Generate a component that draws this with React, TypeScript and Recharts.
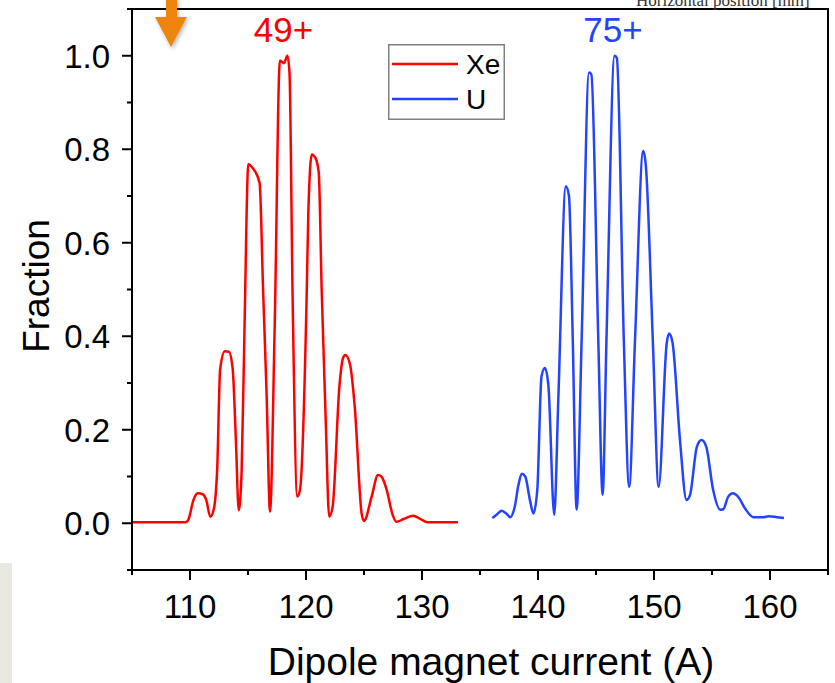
import React from 'react';
import { LineChart, Line, XAxis, YAxis, ReferenceArea, ReferenceDot, Legend } from 'recharts';

// Xe 49+ scan
const xeCurrent = [105, 109.6, 109.85, 110.3, 110.66, 111.1, 111.4, 111.75, 112.05, 112.35, 112.6, 113.0, 113.35, 113.68, 113.96, 114.2, 114.45, 114.7, 115.03, 115.4, 116.0, 116.3, 116.6, 116.9, 117.3, 117.75, 118.1, 118.4, 118.58, 118.85, 119.25, 119.48, 120.05, 120.2, 120.5, 120.8, 121.1, 121.35, 121.7, 122.0, 122.3, 122.88, 123.2, 123.4, 123.8, 124.2, 124.8, 125.0, 125.66, 126.2, 126.5, 126.96, 127.47, 127.8, 128.4, 129.25, 129.8, 130.5, 133.1];
const xeFraction = [0.002, 0.002, 0.007, 0.05, 0.064, 0.062, 0.05, 0.014, 0.03, 0.12, 0.33, 0.368, 0.367, 0.33, 0.175, 0.028, 0.11, 0.42, 0.768, 0.76, 0.728, 0.5, 0.28, 0.025, 0.42, 0.99, 0.984, 1.0, 0.962, 0.478, 0.057, 0.071, 0.478, 0.664, 0.789, 0.782, 0.75, 0.5, 0.22, 0.014, 0.036, 0.293, 0.354, 0.36, 0.339, 0.25, 0.02, 0.005, 0.057, 0.103, 0.1, 0.071, 0.018, 0.003, 0.009, 0.016, 0.01, 0.002, 0.002];

// U 75+ scan
const uCurrent = [136.06, 136.5, 136.87, 137.3, 137.6, 138.0, 138.3, 138.6, 138.9, 139.3, 139.6, 139.94, 140.3, 140.6, 140.9, 141.4, 141.75, 142.4, 142.67, 143.0, 143.33, 143.76, 144.4, 144.6, 145.2, 145.57, 145.9, 146.6, 146.8, 147.4, 147.86, 148.36, 149.07, 149.3, 149.9, 150.4, 151.1, 151.3, 151.6, 152.24, 152.8, 153.1, 153.7, 154.1, 154.5, 155.1, 155.7, 155.97, 156.4, 156.8, 157.3, 157.84, 158.56, 159.4, 159.9, 160.6, 161.2];
const uFraction = [0.011, 0.02, 0.027, 0.02, 0.013, 0.036, 0.08, 0.106, 0.1, 0.05, 0.021, 0.072, 0.314, 0.332, 0.293, 0.018, 0.264, 0.721, 0.7, 0.39, 0.029, 0.39, 0.964, 0.96, 0.39, 0.061, 0.39, 1.0, 0.995, 0.39, 0.078, 0.39, 0.796, 0.764, 0.39, 0.078, 0.386, 0.406, 0.386, 0.178, 0.05, 0.06, 0.164, 0.178, 0.164, 0.071, 0.029, 0.03, 0.057, 0.064, 0.055, 0.032, 0.013, 0.013, 0.015, 0.013, 0.011];

const xTicks = [105, 110, 115, 120, 125, 130, 135, 140, 145, 150, 155, 160, 165];
const yTicks = [-0.1, 0, 0.1, 0.2, 0.3, 0.4, 0.5, 0.6, 0.7, 0.8, 0.9, 1.0, 1.1];
const legendOrder = ['Xe', 'U'];

const xeData = xeCurrent.map((c, i) => ({ current: c, fraction: xeFraction[i] }));
const uData = uCurrent.map((c, i) => ({ current: c, fraction: uFraction[i] }));

const FONT = '"Liberation Sans", Arial, sans-serif';
const RED = '#ff0000';
const BLUE = '#2443ff';

const XTick = (props: any) => {
  const { x, y, payload } = props;
  const v = payload.value;
  const major = Math.round(v) % 10 === 0;
  return (
    <g>
      <line x1={x} x2={x} y1={y} y2={y + (major ? 10 : 5)} stroke="#000" strokeWidth={2} />
      {major && (
        <text x={x} y={y + 48} textAnchor="middle" fontSize={33} fontFamily={FONT} fill="#000">
          {v}
        </text>
      )}
    </g>
  );
};

const YTick = (props: any) => {
  const { x, y, payload } = props;
  const v = payload.value;
  const major = Math.round(v * 10) % 2 === 0;
  return (
    <g>
      <line x1={x - (major ? 10 : 5)} x2={x} y1={y} y2={y} stroke="#000" strokeWidth={2} />
      {major && (
        <text x={x - 22} y={y} dy="0.36em" textAnchor="end" fontSize={33} fontFamily={FONT} fill="#000">
          {v.toFixed(1)}
        </text>
      )}
    </g>
  );
};

const LegendBox = (props: any) => {
  const raw = props.payload || [];
  const items = [...raw].sort((a: any, b: any) => legendOrder.indexOf(a.value) - legendOrder.indexOf(b.value));
  return (
    <svg width={117} height={76} style={{ display: 'block' }}>
      <rect x={0.75} y={0.75} width={115.5} height={74.5} fill="#fff" stroke="#808080" strokeWidth={1.5} />
      {items.map((it: any, i: number) => (
        <g key={i}>
          <line x1={4} x2={70} y1={20 + i * 35} y2={20 + i * 35} stroke={it.color} strokeWidth={2.5} />
          <text x={78} y={20 + i * 35} dy="0.36em" fontSize={28} fontFamily={FONT} fill="#000">
            {it.value}
          </text>
        </g>
      ))}
    </svg>
  );
};

export default function App() {
  return (
    <div style={{ position: 'absolute', left: 0, top: 0, width: 835, height: 683, background: '#fff', overflow: 'hidden' }}>
      <LineChart width={835} height={683} margin={{ top: 9, right: 7, bottom: 0, left: 0 }} style={{ fontFamily: FONT }}>
        <XAxis
          type="number"
          dataKey="current"
          domain={[105, 165]}
          ticks={xTicks}
          interval={0}
          tickSize={0}
          tickMargin={0}
          tick={<XTick />}
          axisLine={{ stroke: '#000', strokeWidth: 2 }}
          height={113}
          allowDataOverflow
          label={{
            content: () => (
              <text x={491} y={675} textAnchor="middle" fontSize={39} fontFamily={FONT} fill="#000">
                Dipole magnet current (A)
              </text>
            ),
          }}
        />
        <YAxis
          type="number"
          domain={[-0.1, 1.1]}
          ticks={yTicks}
          interval={0}
          width={132}
          tickSize={0}
          tickMargin={0}
          tick={<YTick />}
          axisLine={{ stroke: '#000', strokeWidth: 2 }}
          allowDataOverflow
          label={{
            content: () => {
              const cy = 286;
              return (
                <text x={49} y={cy} transform={`rotate(-90, 49, ${cy})`} textAnchor="middle" fontSize={37} fontFamily={FONT} fill="#000">
                  Fraction
                </text>
              );
            },
          }}
        />
        <ReferenceArea x1={105} x2={165} y1={-0.1} y2={1.1} fill="none" stroke="#000" strokeWidth={2} />
        <Line data={xeData} dataKey="fraction" name="Xe" type="monotone" stroke={RED} strokeWidth={2.5} dot={false} isAnimationActive={false} />
        <Line data={uData} dataKey="fraction" name="U" type="monotone" stroke={BLUE} strokeWidth={2.5} dot={false} isAnimationActive={false} />
        <ReferenceDot x={118.06} y={1.056} r={0} stroke="none" label={{ value: '49+', position: 'center', fill: RED, fontSize: 35, fontFamily: FONT }} />
        <ReferenceDot x={146.47} y={1.056} r={0} stroke="none" label={{ value: '75+', position: 'center', fill: BLUE, fontSize: 35, fontFamily: FONT }} />
        <Legend
          layout="vertical"
          align="center"
          verticalAlign="middle"
          wrapperStyle={{ left: 388, top: 44, width: 117, height: 76 }}
          content={<LegendBox />}
        />
      </LineChart>
      <svg width={835} height={683} style={{ position: 'absolute', left: 0, top: 0, pointerEvents: 'none' }}>
        <defs>
          <filter id="sh" x="-30%" y="-30%" width="160%" height="160%">
            <feDropShadow dx="1.5" dy="2" stdDeviation="2" floodColor="#000" floodOpacity="0.3" />
          </filter>
        </defs>
        <text x={636} y={6} fontSize={17} fontFamily='"Liberation Serif", "Times New Roman", serif' fill="#333">
          Horizontal position [mm]
        </text>
        <g filter="url(#sh)">
          <rect x={166} y={-2} width={11} height={20} fill="#ee830f" />
          <polygon points="155,17 187,17 171,47" fill="#ee830f" />
        </g>
        <rect x={0} y={563} width={12} height={120} fill="#e8e8e0" />
      </svg>
    </div>
  );
}
